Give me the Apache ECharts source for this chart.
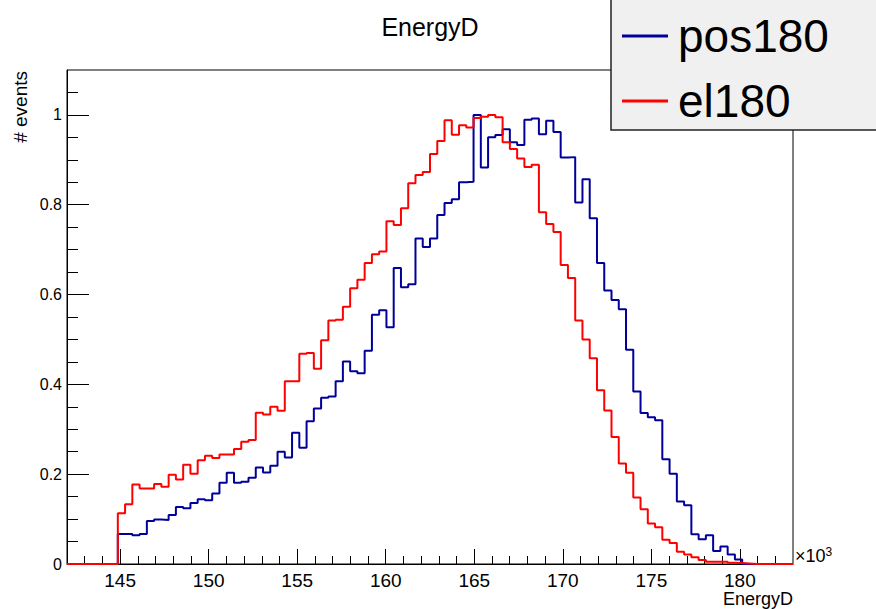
<!DOCTYPE html>
<html>
<head>
<meta charset="utf-8">
<script src="https://cdn.jsdelivr.net/npm/echarts@6/dist/echarts.min.js"></script>
<style>
html,body{margin:0;padding:0;background:#fff;}
#chart{width:876px;height:609px;}
</style>
</head>
<body>
<div id="chart"></div>
<script>
// Histogram binning (x in units of 10^3)
const xMin = 142, xMax = 183, binWidth = 0.41;
const yMin = 0, yMax = 1.1;

// Bin contents (100 bins)
const pos180 = [
  0, 0, 0, 0, 0, 0, 0, 0.067, 0.067, 0.064,
  0.067, 0.096, 0.099, 0.098, 0.109, 0.127, 0.124, 0.136, 0.144, 0.142,
  0.157, 0.181, 0.203, 0.181, 0.183, 0.192, 0.215, 0.204, 0.219, 0.250,
  0.237, 0.292, 0.259, 0.318, 0.346, 0.370, 0.373, 0.407, 0.451, 0.429,
  0.425, 0.475, 0.555, 0.565, 0.527, 0.659, 0.616, 0.623, 0.725, 0.706,
  0.725, 0.777, 0.804, 0.812, 0.850, 0.851, 1.000, 0.883, 0.950, 0.955,
  0.968, 0.939, 0.933, 0.989, 0.992, 0.957, 0.987, 0.962, 0.905, 0.906,
  0.805, 0.857, 0.770, 0.670, 0.609, 0.588, 0.567, 0.477, 0.384, 0.336,
  0.327, 0.320, 0.233, 0.201, 0.139, 0.131, 0.066, 0.055, 0.064, 0.029,
  0.039, 0.021, 0.010, 0, 0, 0, 0, 0, 0, 0
];
const el180 = [
  0, 0, 0, 0, 0, 0, 0, 0.113, 0.133, 0.177,
  0.168, 0.168, 0.178, 0.172, 0.199, 0.188, 0.221, 0.201, 0.231, 0.241,
  0.236, 0.244, 0.244, 0.256, 0.272, 0.276, 0.337, 0.333, 0.350, 0.341,
  0.407, 0.407, 0.468, 0.470, 0.435, 0.498, 0.542, 0.544, 0.573, 0.614,
  0.633, 0.670, 0.690, 0.696, 0.763, 0.755, 0.792, 0.848, 0.866, 0.873,
  0.913, 0.942, 0.988, 0.956, 0.977, 0.972, 0.993, 0.996, 1.000, 0.995,
  0.939, 0.924, 0.903, 0.884, 0.889, 0.783, 0.757, 0.739, 0.666, 0.637,
  0.542, 0.500, 0.458, 0.387, 0.342, 0.283, 0.224, 0.203, 0.148, 0.122,
  0.090, 0.082, 0.054, 0.047, 0.027, 0.021, 0.015, 0.009, 0.005, 0.005,
  0.005, 0.003, 0.002, 0.001, 0, 0, 0, 0, 0, 0
];

// Tick values
const xMajorTicks = [145, 150, 155, 160, 165, 170, 175, 180];
const xMinorTicks = [143, 144, 146, 147, 148, 149, 151, 152, 153, 154, 156, 157, 158, 159,
  161, 162, 163, 164, 166, 167, 168, 169, 171, 172, 173, 174, 176, 177, 178, 179, 181, 182];
const yMajorTicks = [0, 0.2, 0.4, 0.6, 0.8, 1];
const yMinorTicks = [0.05, 0.1, 0.15, 0.25, 0.3, 0.35, 0.45, 0.5, 0.55, 0.65, 0.7, 0.75,
  0.85, 0.9, 0.95, 1.05];

const seriesNames = ['pos180', 'el180'];
const seriesColors = ['#000099', '#ff0000'];
const chartTitle = 'EnergyD';
const xTitle = 'EnergyD';
const yTitle = '# events';

function toSteps(vals) {
  const pts = vals.map((v, i) => [xMin + i * binWidth, v]);
  pts.push([xMin + vals.length * binWidth, vals[vals.length - 1]]);
  return pts;
}

const FONT = '"Liberation Sans", Arial, Helvetica, sans-serif';
const chart = echarts.init(document.getElementById('chart'), null, {renderer: 'svg'});

const option = {
  animation: false,
  backgroundColor: '#ffffff',
  grid: {left: 67, top: 70, width: 726, height: 494, show: true,
         borderColor: '#000', borderWidth: 1, backgroundColor: 'transparent', containLabel: false},
  xAxis: [{
    type: 'value', min: xMin, max: xMax, position: 'bottom',
    axisLine: {show: true, onZero: false, lineStyle: {color: '#000', width: 1}},
    axisTick: {show: true, inside: true, length: 15, customValues: xMajorTicks, lineStyle: {color: '#000'}},
    axisLabel: {show: true, customValues: xMajorTicks, margin: 7,
                fontFamily: FONT, fontSize: 19, color: '#000'},
    splitLine: {show: false}
  }, {
    type: 'value', min: xMin, max: xMax, position: 'bottom',
    axisLine: {show: false},
    axisTick: {show: true, inside: true, length: 8, customValues: xMinorTicks, lineStyle: {color: '#000'}},
    axisLabel: {show: false},
    splitLine: {show: false}
  }],
  yAxis: [{
    type: 'value', min: yMin, max: yMax, position: 'left',
    axisLine: {show: true, onZero: false, lineStyle: {color: '#000', width: 1}},
    axisTick: {show: true, inside: true, length: 22, customValues: yMajorTicks, lineStyle: {color: '#000'}},
    axisLabel: {show: true, customValues: yMajorTicks, margin: 5,
                fontFamily: FONT, fontSize: 16, color: '#000'},
    splitLine: {show: false}
  }, {
    type: 'value', min: yMin, max: yMax, position: 'left', offset: 0,
    axisLine: {show: false},
    axisTick: {show: true, inside: true, length: 11, customValues: yMinorTicks, lineStyle: {color: '#000'}},
    axisLabel: {show: false},
    splitLine: {show: false}
  }],
  legend: {
    data: seriesNames,
    orient: 'vertical', left: 622, top: 13, z: 20, padding: 0,
    itemWidth: 46, itemHeight: 3, itemGap: 19, icon: 'rect',
    textStyle: {fontFamily: FONT, fontSize: 46, color: '#000', padding: [0, 0, 0, 5]},
    selectedMode: false
  },
  graphic: [{
    type: 'rect', z: 10,
    shape: {x: 611, y: -2, width: 270, height: 132},
    style: {fill: '#f0f0f0', stroke: '#222', lineWidth: 1.5}
  }, {
    type: 'text', z: 10, x: 430, y: 14,
    style: {text: chartTitle, fill: '#000', font: '25px ' + FONT, align: 'center', verticalAlign: 'top'}
  }, {
    type: 'text', z: 10, x: 793, y: 590,
    style: {text: xTitle, fill: '#000', font: '18px ' + FONT, align: 'right', verticalAlign: 'top'}
  }, {
    type: 'text', z: 10, x: 11, y: 71, rotation: Math.PI / 2,
    style: {text: yTitle, fill: '#000', font: '19px ' + FONT, align: 'right', verticalAlign: 'top'}
  }, {
    type: 'text', z: 10, x: 795, y: 546,
    style: {
      text: '×10{sup|3}', fill: '#000',
      font: '18px ' + FONT,
      rich: {sup: {fontSize: 12, verticalAlign: 'top', padding: [0, 0, 8, 0], fontFamily: FONT}}
    }
  }],
  series: [{
    name: seriesNames[0], type: 'line', step: 'end', symbol: 'none',
    data: toSteps(pos180), xAxisIndex: 0, yAxisIndex: 0,
    lineStyle: {color: seriesColors[0], width: 2}, itemStyle: {color: seriesColors[0]}
  }, {
    name: seriesNames[1], type: 'line', step: 'end', symbol: 'none',
    data: toSteps(el180), xAxisIndex: 0, yAxisIndex: 0,
    lineStyle: {color: seriesColors[1], width: 2}, itemStyle: {color: seriesColors[1]}
  }]
};
chart.setOption(option);
</script>
</body>
</html>
